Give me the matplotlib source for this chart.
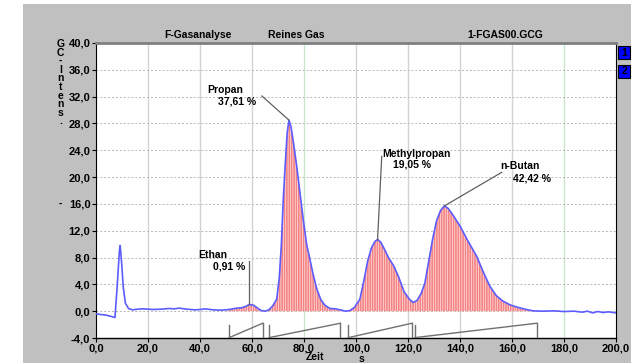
import numpy as np
import matplotlib
matplotlib.use('Agg')
import matplotlib.pyplot as plt
from matplotlib.patches import Rectangle
from matplotlib.ticker import FuncFormatter

# chromatogram (time in s, GC intensity)
zeit = [0, 2, 4, 6, 7.3, 8.2, 9.0, 9.3, 9.8, 10.5, 11.3, 12.5, 14, 16, 18, 20, 22, 25,
        28, 30, 32, 35, 38, 40, 42, 45, 48, 50, 52, 54, 56, 57.5, 59, 60.5, 62, 63.5,
        65, 66.5, 68, 69.5, 70.5, 71.3, 72, 72.8, 73.5, 74.2, 75, 76, 77.2, 78.5, 79.7,
        81, 82.3, 83.5, 85, 86.5, 88, 90, 92, 94, 96, 97.7, 99.5, 101.5, 103, 104.5,
        106, 107.3, 108.3, 109.5, 111, 112.5, 114.6, 116.5, 118.5, 120.5, 122, 123.5,
        125, 126.5, 128, 129.5, 131, 132.5, 134, 135.5, 137, 140, 143, 146.4, 149,
        151.5, 154, 156.5, 159.2, 162, 165, 168, 172, 176, 180, 184, 187, 189, 191,
        193, 195, 197, 200]
intens = [-0.4, -0.5, -0.6, -0.8, -0.95, 4.0, 9.0, 9.8, 7.5, 3.5, 1.2, 0.4, 0.2, 0.3,
          0.35, 0.3, 0.25, 0.3, 0.4, 0.35, 0.45, 0.3, 0.2, 0.25, 0.35, 0.2, 0.15, 0.2,
          0.3, 0.45, 0.5, 0.7, 1.0, 0.9, 0.5, 0.1, 0.0, 0.2, 0.8, 1.8, 5.0, 10.0, 16.5,
          22.0, 26.5, 28.5, 27.5, 25.0, 21.6, 17.5, 13.7, 10.0, 7.7, 5.5, 3.2, 1.7, 0.9,
          0.4, 0.35, 0.2, 0.0, 0.1, 0.6, 1.8, 4.5, 7.5, 9.5, 10.4, 10.7, 10.3, 9.2, 8.0,
          6.7, 5.0, 2.9, 1.8, 1.3, 1.6, 2.6, 4.2, 7.5, 10.8, 13.5, 15.0, 15.7, 15.3, 14.5,
          12.7, 10.5, 8.2, 5.8, 3.7, 2.3, 1.5, 0.95, 0.6, 0.3, 0.05, 0.0, 0.05, -0.05,
          0.0, -0.15, 0.0, -0.25, -0.05, -0.2, -0.1, -0.25]

# integration windows (start / end of each peak, s)
peak_start = [51.2, 66.5, 97.0, 122.5]
peak_end = [64.1, 94.0, 121.5, 169.5]

# peak labels: name, percentage, label position, peak tip
peak_names = ['Ethan', 'Propan', 'Methylpropan', 'n-Butan']
peak_pct = ['0,91 %', '37,61 %', '19,05 %', '42,42 %']
peak_tip_t = [58.8, 74.2, 108.3, 134.0]
peak_tip_y = [1.0, 28.5, 10.7, 15.7]
label_t = [39.2, 42.7, 110.0, 155.4]
label_y = [8.4, 33.0, 23.5, 21.6]
pct_t = [45.0, 46.9, 114.2, 160.3]
pct_y = [6.6, 31.3, 21.9, 19.8]
leader_t = [58.8, 63.8, 109.9, 156.0]
leader_y = [7.5, 32.1, 23.1, 20.7]

xticks = [0, 20, 40, 60, 80, 100, 120, 140, 160, 180, 200]
yticks = [-4, 0, 4, 8, 12, 16, 20, 24, 28, 32, 36, 40]

W, H = 636, 363
def fx(px):
    return px / W
def fy(py):
    return 1 - py / H

FONT = 'Liberation Sans'
plt.rcParams['font.family'] = [FONT, 'DejaVu Sans']
plt.rcParams['hatch.linewidth'] = 1.2

fig = plt.figure(figsize=(W / 100, H / 100), dpi=100, facecolor='white')
# grey window background
fig.patches.append(Rectangle((fx(23), 0), fx(631) - fx(23), fy(4), transform=fig.transFigure,
                             facecolor='#c0c0c0', edgecolor='none', zorder=-10))

ax = fig.add_axes([fx(96), fy(338), fx(616) - fx(96), fy(43) - fy(338)])
ax.set_facecolor('white')

t = np.array(zeit)
y = np.array(intens)
for v in xticks[1:-1]:
    c = '#c8e6c8' if v in (80, 180) else '#d2d2d2'
    ax.axvline(v, color=c, lw=1, zorder=1)
for v in yticks[1:-1]:
    ax.axhline(v, color='#b8b8b8', lw=0.7, ls=(0, (2, 2)), zorder=1)

mask = (t >= peak_start[0]) & (t <= peak_end[-1])
ax.fill_between(t, 0, y, where=mask, interpolate=True, facecolor='#ffe6e6',
                edgecolor='#f48282', hatch='|||||||', linewidth=0, zorder=2)
ax.plot(t, y, color='#5c5cff', lw=1.2, zorder=3)

# integration baseline markers
for s, e in zip(peak_start, peak_end):
    ax.plot([s, s], [-4, -2.0], color='#707070', lw=1, zorder=3)
    ax.plot([s, e], [-3.95, -1.8], color='#707070', lw=1, zorder=3)
    ax.plot([e, e], [-1.8, -4], color='#707070', lw=1, zorder=3)

# peak labels and leader lines
for i in range(len(peak_names)):
    ax.plot([leader_t[i], peak_tip_t[i]], [leader_y[i], peak_tip_y[i]],
            color='#606060', lw=0.9, zorder=4)
    ax.text(label_t[i], label_y[i], peak_names[i], fontsize=7.5, fontweight='bold',
            ha='left', va='center', zorder=5)
    ax.text(pct_t[i], pct_y[i], peak_pct[i], fontsize=7.5, fontweight='bold',
            ha='left', va='center', zorder=5)

ax.set_xlim(0, 200)
ax.set_ylim(-4, 40)
ax.set_xticks(xticks)
ax.set_yticks(yticks)
fmt = FuncFormatter(lambda v, p: f'{v:.1f}'.replace('.', ','))
ax.xaxis.set_major_formatter(fmt)
ax.yaxis.set_major_formatter(fmt)
ax.tick_params(axis='both', length=3, width=0.8, pad=1, labelsize=8)
for lab in ax.get_xticklabels() + ax.get_yticklabels():
    lab.set_fontweight('bold')

ax.spines['top'].set_color('#808080')
ax.spines['top'].set_linewidth(2)
ax.spines['left'].set_linestyle((0, (2, 1)))
ax.spines['right'].set_linestyle((0, (2, 1)))
ax.spines['bottom'].set_linewidth(1)

# header texts
fig.text(fx(197.5), fy(35.5), 'F-Gasanalyse', fontsize=7.5, fontweight='bold', ha='center', va='center')
fig.text(fx(296), fy(35.5), 'Reines Gas', fontsize=7.5, fontweight='bold', ha='center', va='center')
fig.text(fx(505), fy(35.5), '1-FGAS00.GCG', fontsize=7.5, fontweight='bold', ha='center', va='center')

# vertical axis title, one letter per line
for k, ch in enumerate('GC-Intens.'):
    fig.text(fx(60.5), fy(44 + 8.6 * k), ch, fontsize=7.5, fontweight='bold', ha='center', va='center')
fig.text(fx(60.5), fy(204), '-', fontsize=7.5, fontweight='bold', ha='center', va='center')

fig.text(fx(314.5), fy(357), 'Zeit', fontsize=7.5, fontweight='bold', ha='center', va='center')
fig.text(fx(361), fy(359), 's', fontsize=7.5, fontweight='bold', ha='center', va='center')

# little window buttons on the right
for top, lab in ((46, '1'), (65, '2')):
    fig.patches.append(Rectangle((fx(618), fy(top + 13)), fx(12), 13 / H, transform=fig.transFigure,
                                 facecolor='#0000ff', edgecolor='black', lw=0.8, zorder=3))
    fig.text(fx(624.5), fy(top + 6.5), lab, fontsize=7.5, fontweight='bold', ha='center',
             va='center', color='black', zorder=4)

fig.savefig('out.png', dpi=100)
